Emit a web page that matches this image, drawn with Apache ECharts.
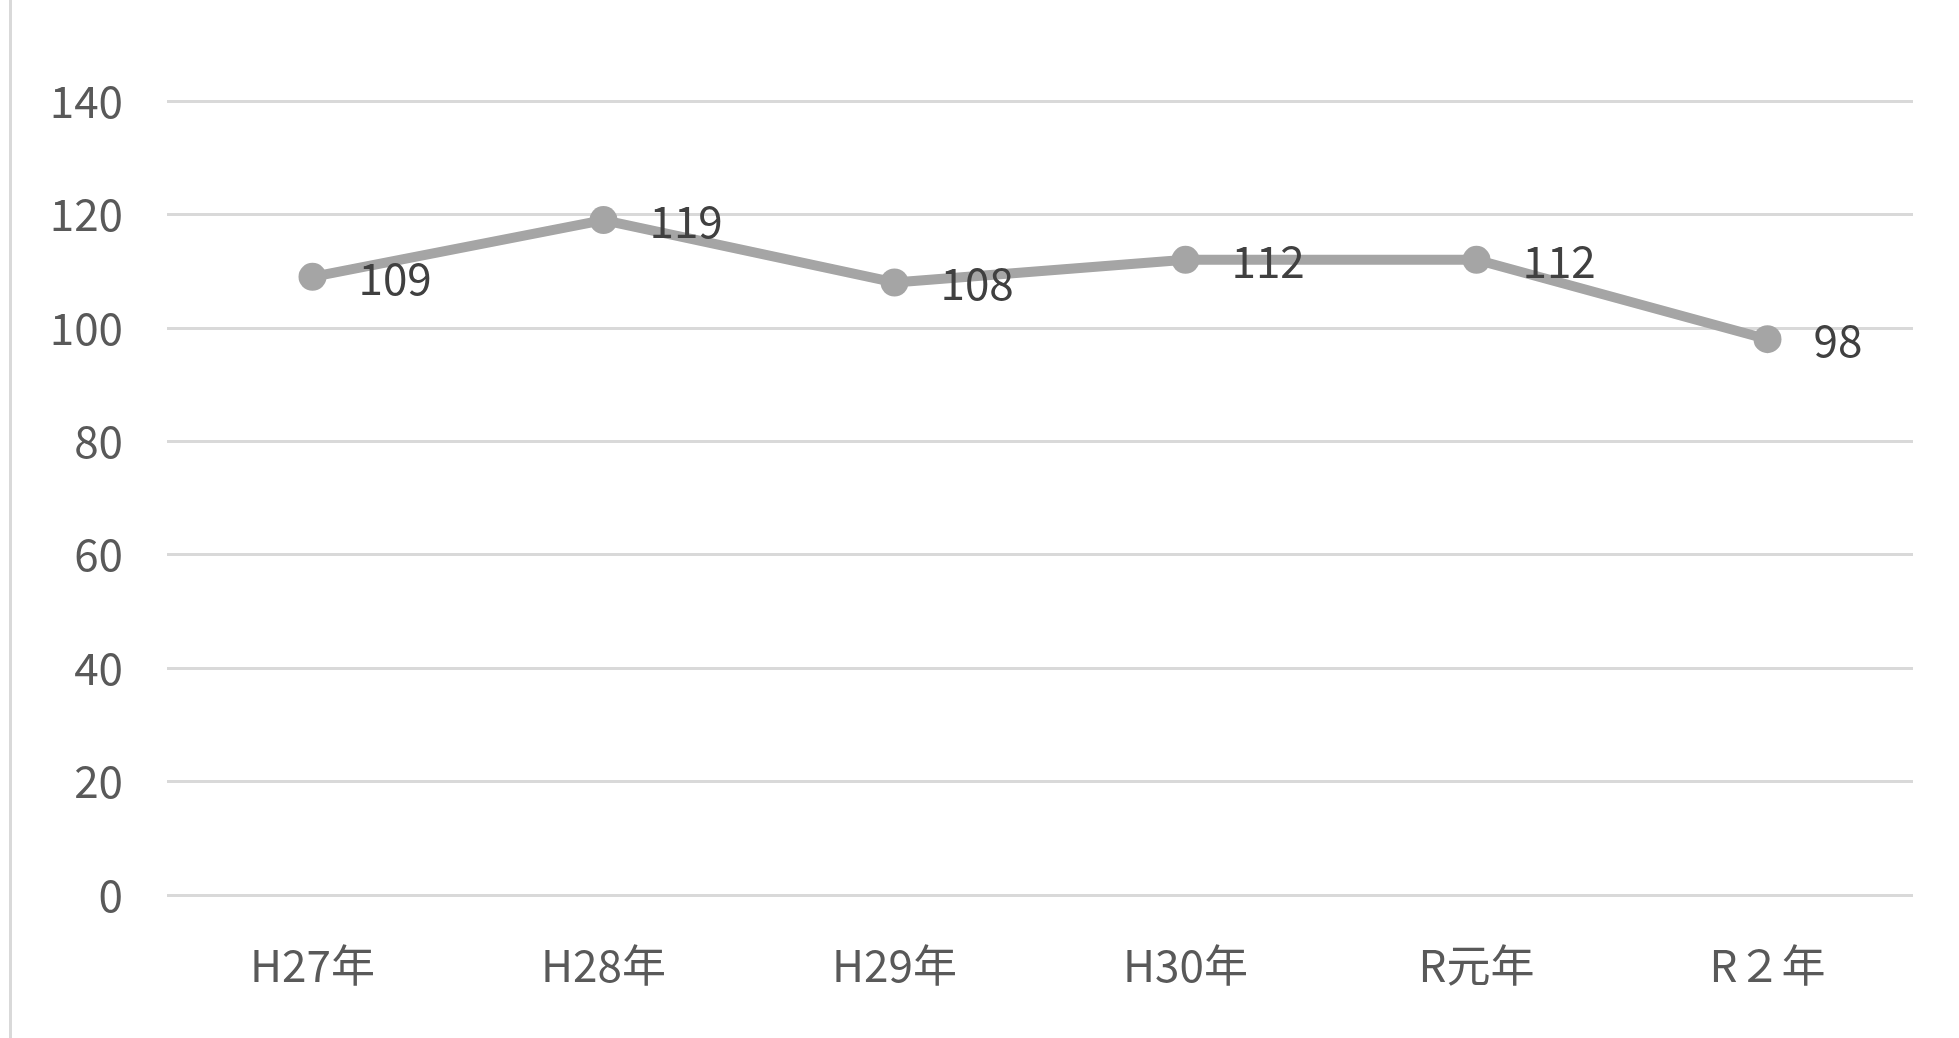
<!DOCTYPE html>
<html>
<head>
<meta charset="utf-8">
<script src="https://cdn.jsdelivr.net/npm/echarts@6/dist/echarts.min.js"></script>
<style>
html,body{margin:0;padding:0;background:#fff;}
#chart{width:1959px;height:1038px;}
</style>
</head>
<body>
<div id="chart"></div>
<script>
const categories = ['H27年', 'H28年', 'H29年', 'H30年', 'R元年', 'R２年'];
const values = [109, 119, 108, 112, 112, 98];
const yTicks = { min: 0, max: 140, interval: 20 };

const chart = echarts.init(document.getElementById('chart'));
const font = '"Noto Sans CJK JP", "Noto Sans", sans-serif';
chart.setOption({
  backgroundColor: '#ffffff',
  animation: false,
  graphic: [{
    type: 'rect', left: 9, top: 0,
    shape: { width: 3, height: 1038 },
    style: { fill: '#d9d9d9' }
  }],
  grid: { left: 167, right: 46, top: 101, bottom: 143, containLabel: false },
  xAxis: {
    type: 'category',
    data: categories,
    boundaryGap: true,
    axisLine: { show: false },
    axisTick: { show: false },
    axisLabel: { color: '#595959', fontSize: 44, fontFamily: font, margin: 48 }
  },
  yAxis: {
    type: 'value',
    min: yTicks.min, max: yTicks.max, interval: yTicks.interval,
    axisLine: { show: false },
    axisTick: { show: false },
    splitLine: { lineStyle: { color: '#d9d9d9', width: 3 } },
    axisLabel: { color: '#595959', fontSize: 44, fontFamily: font, margin: 44 }
  },
  series: [{
    type: 'line',
    data: values,
    symbol: 'circle',
    symbolSize: 28,
    lineStyle: { color: '#a5a5a5', width: 10 },
    itemStyle: { color: '#a5a5a5' },
    label: {
      show: true, position: 'right', distance: 32, offset: [0, 1],
      color: '#404040', fontSize: 44, fontFamily: font
    }
  }]
});
</script>
</body>
</html>
